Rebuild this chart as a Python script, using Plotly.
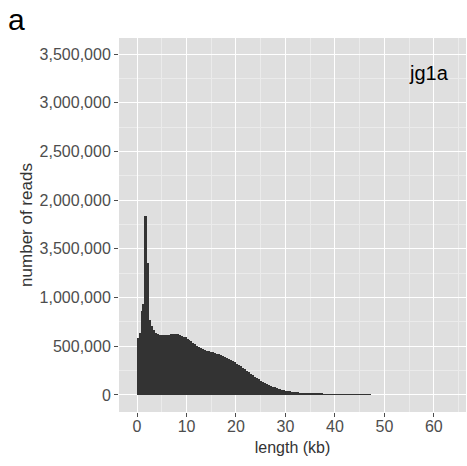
import plotly.graph_objects as go

# Histogram of read lengths (bins of 0.4 kb starting at 0), counts in thousands
bin_width_kb = 0.4
reads_thousands = [
    588, 640, 862, 930, 1838, 1352, 770, 708, 667, 640,
    625, 618, 615, 614, 615, 617, 620, 622, 624, 624,
    622, 618, 610, 600, 590, 578, 565, 550, 535, 520,
    506, 494, 482, 472, 463, 455, 449, 442, 437, 431,
    424, 416, 408, 399, 390, 382, 373, 362, 350, 337,
    323, 309, 295, 280, 265, 250, 234, 218, 203, 188,
    173, 159, 146, 134, 123, 112, 102, 93, 85, 78,
    71, 65, 59, 54, 49, 45, 41, 38, 35, 32,
    29, 27, 24, 22, 20, 19, 18, 16, 15, 14,
    13, 12, 11, 10, 9, 8, 7, 6, 5.5, 5,
    4.5, 4, 3.6, 3.2, 2.8, 2.5, 2.2, 2.0, 1.8, 1.6,
    1.4, 1.3, 1.2, 1.1, 1.0, 0.9, 0.8, 0.7,
]
x_tick_vals = [0, 10, 20, 30, 40, 50, 60]
y_tick_vals = [0, 500000, 1000000, 1500000, 2000000, 2500000, 3000000, 3500000]
y_tick_text = ["0", "500,000", "1,000,000", "3,500,000", "2,000,000",
               "2,500,000", "3,000,000", "3,500,000"]
panel_label = "a"
sample_label = "jg1a"

bin_centers = [(i + 0.5) * bin_width_kb for i in range(len(reads_thousands))]
counts = [v * 1000 for v in reads_thousands]

FONT = "Liberation Sans, Arial, sans-serif"

fig = go.Figure()
fig.add_trace(go.Bar(
    x=bin_centers, y=counts, width=bin_width_kb,
    marker=dict(color="#333333", line=dict(width=0)),
    hoverinfo="skip",
))

fig.update_layout(
    width=467, height=466,
    margin=dict(l=119, r=1, t=38, b=54, autoexpand=False),
    paper_bgcolor="white",
    plot_bgcolor="#DFDFDF",
    bargap=0,
    showlegend=False,
    font=dict(family=FONT, color="#4D4D4D", size=16),
)

fig.update_xaxes(
    range=[-3.65, 66.5],
    automargin=False,
    tickvals=x_tick_vals,
    ticks="outside", ticklen=4, tickwidth=1, tickcolor="#4D4D4D",
    tickfont=dict(size=16, color="#4D4D4D", family=FONT),
    ticklabelstandoff=-4,
    showgrid=True, gridcolor="#FFFFFF", gridwidth=1.2,
    minor=dict(dtick=5, tick0=5, showgrid=True, gridcolor="#EBEBEB", gridwidth=1, ticks=""),
    zeroline=False, showline=False,
    title=dict(text="length (kb)", font=dict(size=16, color="#333333", family=FONT), standoff=7),
)
fig.update_yaxes(
    range=[-175000, 3665000],
    automargin=False,
    tickvals=y_tick_vals, ticktext=y_tick_text,
    ticks="outside", ticklen=4, tickwidth=1, tickcolor="#4D4D4D",
    tickfont=dict(size=16, color="#4D4D4D", family=FONT),
    showgrid=True, gridcolor="#FFFFFF", gridwidth=1.2,
    minor=dict(dtick=250000, tick0=250000, showgrid=True, gridcolor="#EBEBEB", gridwidth=1, ticks=""),
    zeroline=False, showline=False,
    title=dict(text="number of reads", font=dict(size=17, color="#333333", family=FONT), standoff=2),
)

fig.add_annotation(
    text=panel_label, xref="paper", yref="paper",
    x=-0.325, y=1.10, xanchor="left", yanchor="top",
    showarrow=False, font=dict(size=30, color="#000000", family=FONT),
)
fig.add_annotation(
    text=sample_label, xref="paper", yref="paper",
    x=0.957, y=0.906, xanchor="right", yanchor="middle",
    showarrow=False, font=dict(size=20, color="#000000", family=FONT),
)

fig.write_html("out.html", config={"displayModeBar": False},
               post_script="document.body.style.margin='0';")
